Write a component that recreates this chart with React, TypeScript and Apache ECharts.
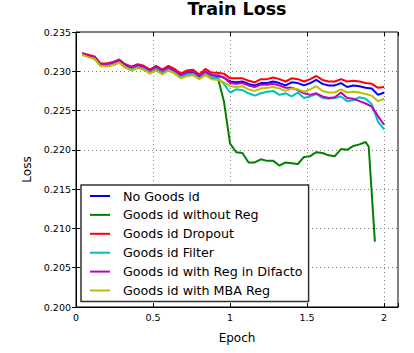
import React, { useEffect, useRef } from 'react';
import * as echarts from 'echarts';

const FONT = 'DejaVu Sans';

const epochs = [
  0.04, 0.08, 0.12, 0.16, 0.2, 0.24, 0.28, 0.32, 0.36, 0.4,
  0.44, 0.48, 0.52, 0.56, 0.6, 0.64, 0.68, 0.72, 0.76, 0.8,
  0.84, 0.88, 0.92, 0.96, 1.0, 1.04, 1.08, 1.12, 1.16, 1.2,
  1.24, 1.28, 1.32, 1.36, 1.4, 1.44, 1.48, 1.52, 1.56, 1.6,
  1.64, 1.68, 1.72, 1.76, 1.8, 1.84, 1.88, 1.92, 1.96, 2.0,
];

const greenEpochs = [...epochs.slice(0, 47), 1.9, 1.94];

const seriesNames = [
  'No Goods id',
  'Goods id without Reg',
  'Goods id Dropout',
  'Goods id Filter',
  'Goods id with Reg in Difacto',
  'Goods id with MBA Reg',
];

const seriesColors = ['#0000ff', '#008000', '#ff0000', '#00bfbf', '#bf00bf', '#bfbf00'];

const noGoodsId = [
  0.2322, 0.2320, 0.2318, 0.2309, 0.2308, 0.2310, 0.2313, 0.2307, 0.2304, 0.2307,
  0.2305, 0.2300, 0.2305, 0.2300, 0.2304, 0.2300, 0.2294, 0.2298, 0.2299, 0.2293,
  0.2299, 0.2295, 0.2294, 0.2292,
  0.2287, 0.2286, 0.2287, 0.2284, 0.2282, 0.2285, 0.2285, 0.2287, 0.2285, 0.2282,
  0.2286, 0.2285, 0.2282, 0.2285, 0.2289, 0.2284, 0.2282, 0.2282, 0.2285, 0.2280,
  0.2282, 0.2281, 0.2279, 0.2278, 0.2270, 0.2273,
];

const withoutReg = [
  0.2321, 0.2319, 0.2316, 0.2307, 0.2307, 0.2308, 0.2311, 0.2305, 0.2302, 0.2305,
  0.2303, 0.2298, 0.2302, 0.2297, 0.2302, 0.2298, 0.2292, 0.2295, 0.2296, 0.2291,
  0.2296, 0.2291, 0.2292, 0.2262,
  0.2208, 0.2197, 0.2196, 0.2184, 0.2184, 0.2188, 0.2186, 0.2186, 0.2180, 0.2184,
  0.2183, 0.2182, 0.2191, 0.2192, 0.2197, 0.2196, 0.2193, 0.2192, 0.2201, 0.2200,
  0.2205, 0.2207, 0.2210, 0.2204, 0.2083,
];

const dropout = [
  0.2323, 0.2321, 0.2319, 0.2310, 0.2310, 0.2312, 0.2315, 0.2309, 0.2306, 0.2309,
  0.2307, 0.2302, 0.2307, 0.2302, 0.2307, 0.2303, 0.2297, 0.2301, 0.2302, 0.2296,
  0.2303, 0.2298, 0.2298, 0.2297,
  0.2291, 0.2291, 0.2291, 0.2288, 0.2286, 0.2290, 0.2290, 0.2292, 0.2290, 0.2287,
  0.2291, 0.2290, 0.2287, 0.2290, 0.2294, 0.2289, 0.2287, 0.2287, 0.2290, 0.2287,
  0.2288, 0.2287, 0.2285, 0.2284, 0.2279, 0.2280,
];

const filter = [
  0.2322, 0.2319, 0.2317, 0.2308, 0.2308, 0.2309, 0.2312, 0.2306, 0.2303, 0.2306,
  0.2304, 0.2299, 0.2304, 0.2299, 0.2303, 0.2299, 0.2293, 0.2296, 0.2297, 0.2291,
  0.2297, 0.2292, 0.2291, 0.2284,
  0.2273, 0.2277, 0.2276, 0.2272, 0.2269, 0.2272, 0.2274, 0.2275, 0.2270, 0.2272,
  0.2268, 0.2273, 0.2266, 0.2268, 0.2271, 0.2266, 0.2265, 0.2266, 0.2268, 0.2262,
  0.2263, 0.2267, 0.2265, 0.2258, 0.2236, 0.2226,
];

const regDifacto = [
  0.2323, 0.2320, 0.2318, 0.2309, 0.2309, 0.2311, 0.2314, 0.2308, 0.2305, 0.2308,
  0.2306, 0.2301, 0.2306, 0.2301, 0.2305, 0.2301, 0.2295, 0.2299, 0.2300, 0.2294,
  0.2300, 0.2295, 0.2295, 0.2292,
  0.2285, 0.2284, 0.2285, 0.2282, 0.2280, 0.2283, 0.2283, 0.2284, 0.2282, 0.2279,
  0.2279, 0.2276, 0.2272, 0.2270, 0.2272, 0.2268, 0.2266, 0.2267, 0.2273, 0.2266,
  0.2265, 0.2262, 0.2259, 0.2255, 0.2243, 0.2232,
];

const mbaReg = [
  0.2321, 0.2318, 0.2316, 0.2307, 0.2306, 0.2308, 0.2311, 0.2305, 0.2301, 0.2304,
  0.2302, 0.2297, 0.2301, 0.2296, 0.2301, 0.2297, 0.2291, 0.2294, 0.2295, 0.2290,
  0.2295, 0.2290, 0.2289, 0.2286,
  0.2281, 0.2280, 0.2281, 0.2277, 0.2275, 0.2278, 0.2279, 0.2280, 0.2278, 0.2275,
  0.2278, 0.2277, 0.2274, 0.2277, 0.2281, 0.2275, 0.2273, 0.2273, 0.2277, 0.2273,
  0.2274, 0.2273, 0.2271, 0.2269, 0.2262, 0.2265,
];

const seriesValues = [noGoodsId, withoutReg, dropout, filter, regDifacto, mbaReg];
const seriesEpochs = [epochs, greenEpochs, epochs, epochs, epochs, epochs];

const X_MIN = 0;
const X_MAX = 2.09;
const X_INTERVAL = 0.5;
const Y_MIN = 0.2;
const Y_MAX = 0.235;
const Y_INTERVAL = 0.005;

export default function App() {
  const ref = useRef<HTMLDivElement>(null);

  useEffect(() => {
    if (!ref.current) return;
    const chart = echarts.init(ref.current, null, { renderer: 'svg' });
    const gridLine = { show: true, lineStyle: { color: '#808080', type: [1, 3], width: 1 } };
    const tick = { show: true, inside: true, length: 4, lineStyle: { color: '#000', width: 1 } };
    const option: any = {
      animation: false,
      textStyle: { fontFamily: FONT },
      graphic: [
        {
          type: 'text',
          x: 237,
          y: 9,
          style: {
            text: 'Train Loss',
            fontFamily: FONT,
            fontSize: 17.5,
            fontWeight: 'bold',
            fill: '#000',
            align: 'center',
            verticalAlign: 'middle',
          },
        },
      ],
      grid: {
        left: 76,
        right: 16,
        top: 32,
        bottom: 46,
        show: true,
        borderColor: '#000',
        borderWidth: 1,
        backgroundColor: 'transparent',
      },
      legend: {
        orient: 'vertical',
        left: 81,
        top: 185,
        icon: 'rect',
        itemWidth: 20,
        itemHeight: 2,
        itemGap: 4.9,
        padding: [4, 6, 4, 9],
        backgroundColor: '#fff',
        borderColor: '#333',
        borderWidth: 1.5,
        borderRadius: 0,
        selectedMode: false,
        textStyle: { fontFamily: FONT, fontSize: 12.7, color: '#000', padding: [0, 0, 0, 8], lineHeight: 14 },
        data: seriesNames,
      },
      xAxis: [
        {
          type: 'value',
          min: X_MIN,
          max: X_MAX,
          interval: X_INTERVAL,
          name: 'Epoch',
          nameLocation: 'middle',
          nameGap: 25,
          nameTextStyle: { fontFamily: FONT, fontSize: 12, color: '#000' },
          axisLine: { show: true, lineStyle: { color: '#000', width: 1 } },
          axisTick: tick,
          axisLabel: {
            fontFamily: FONT,
            fontSize: 9.5,
            color: '#000',
            margin: 5,
            formatter: (v: number) =>
              Math.abs(v / X_INTERVAL - Math.round(v / X_INTERVAL)) < 1e-6 ? String(v) : '',
          },
          splitLine: gridLine,
        },
        {
          type: 'value',
          position: 'top',
          min: X_MIN,
          max: X_MAX,
          interval: X_INTERVAL,
          axisLine: { show: false },
          axisTick: tick,
          axisLabel: { show: false },
          splitLine: { show: false },
        },
      ],
      yAxis: [
        {
          type: 'value',
          min: Y_MIN,
          max: Y_MAX,
          interval: Y_INTERVAL,
          name: 'Loss',
          nameLocation: 'middle',
          nameGap: 43,
          nameTextStyle: { fontFamily: FONT, fontSize: 12, color: '#000' },
          axisLine: { show: true, lineStyle: { color: '#000', width: 1 } },
          axisTick: tick,
          axisLabel: {
            fontFamily: FONT,
            fontSize: 9.5,
            color: '#000',
            margin: 5,
            formatter: (v: number) => v.toFixed(3),
          },
          splitLine: gridLine,
        },
        {
          type: 'value',
          position: 'right',
          min: Y_MIN,
          max: Y_MAX,
          interval: Y_INTERVAL,
          axisLine: { show: false },
          axisTick: tick,
          axisLabel: { show: false },
          splitLine: { show: false },
        },
      ],
      series: seriesNames.map((name, i) => ({
        name,
        type: 'line',
        xAxisIndex: 0,
        yAxisIndex: 0,
        symbol: 'none',
        showSymbol: false,
        color: seriesColors[i],
        itemStyle: { color: seriesColors[i] },
        lineStyle: { width: 2, color: seriesColors[i] },
        data: seriesEpochs[i].map((e, j) => [e, seriesValues[i][j]]),
      })),
    };
    chart.setOption(option);
    return () => chart.dispose();
  }, []);

  return (
    <div
      ref={ref}
      style={{ position: 'fixed', left: 0, top: 0, width: 414, height: 353, background: '#fff' }}
    />
  );
}
